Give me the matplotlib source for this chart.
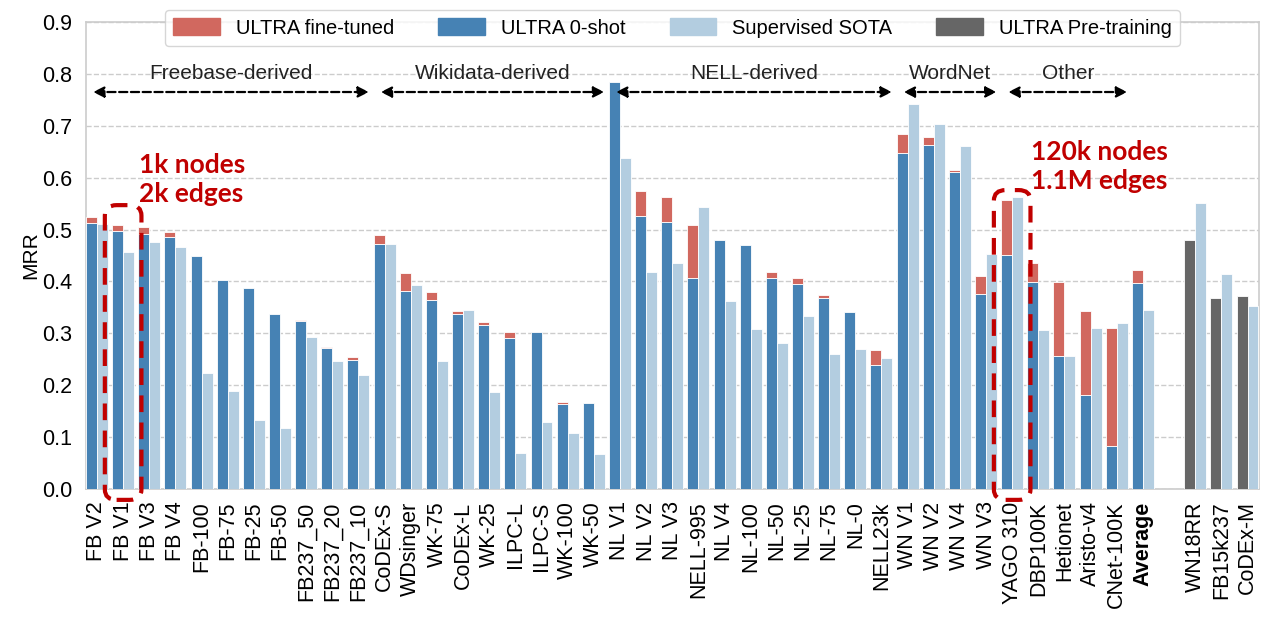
import matplotlib.pyplot as plt
from matplotlib.patches import Patch, FancyBboxPatch

# datasets shown in the main block (0-shot, fine-tuned, supervised SOTA)
datasets = ['FB V2', 'FB V1', 'FB V3', 'FB V4', 'FB-100', 'FB-75', 'FB-25', 'FB-50',
            'FB237_50', 'FB237_20', 'FB237_10', 'CoDEx-S', 'WDsinger', 'WK-75',
            'CoDEx-L', 'WK-25', 'ILPC-L', 'ILPC-S', 'WK-100', 'WK-50', 'NL V1',
            'NL V2', 'NL V3', 'NELL-995', 'NL V4', 'NL-100', 'NL-50', 'NL-25',
            'NL-75', 'NL-0', 'NELL23k', 'WN V1', 'WN V2', 'WN V4', 'WN V3',
            'YAGO 310', 'DBP100K', 'Hetionet', 'Aristo-v4', 'CNet-100K', 'Average']
zero_shot = [0.512, 0.498, 0.491, 0.486, 0.449, 0.403, 0.388, 0.338,
             0.324, 0.272, 0.248, 0.472, 0.382, 0.365,
             0.338, 0.316, 0.290, 0.302, 0.164, 0.166, 0.785,
             0.526, 0.515, 0.406, 0.479, 0.471, 0.407, 0.395,
             0.368, 0.342, 0.239, 0.648, 0.663, 0.611, 0.376,
             0.451, 0.398, 0.257, 0.182, 0.082, 0.396]
fine_tuned = [0.524, 0.509, 0.504, 0.496, None, None, None, None,
              0.325, 0.274, 0.254, 0.490, 0.417, 0.380,
              0.343, 0.321, 0.303, None, 0.168, None, None,
              0.574, 0.563, 0.509, None, None, 0.418, 0.407,
              0.374, None, 0.268, 0.685, 0.679, 0.614, 0.411,
              0.557, 0.436, 0.399, 0.343, 0.310, 0.422]
sota = [0.510, 0.457, 0.476, 0.466, 0.223, 0.189, 0.133, 0.117,
        0.293, 0.247, 0.219, 0.473, 0.393, 0.247,
        0.345, 0.186, 0.070, 0.130, 0.107, 0.068, 0.637,
        0.419, 0.436, 0.543, 0.363, 0.309, 0.281, 0.334,
        0.261, 0.269, 0.253, 0.741, 0.704, 0.661, 0.452,
        0.563, 0.306, 0.257, 0.311, 0.320, 0.344]

# pre-training graphs
pretrain_names = ['WN18RR', 'FB15k237', 'CoDEx-M']
pretrain_vals = [0.480, 0.368, 0.372]
pretrain_sota = [0.551, 0.415, 0.352]

group_names = ['Freebase-derived', 'Wikidata-derived', 'NELL-derived', 'WordNet', 'Other']
group_sizes = [11, 9, 11, 4, 5]

c_ft = '#D1685F'
c_zs = '#4682B4'
c_sota = '#B3CDE0'
c_pre = '#666666'
c_note = '#C00000'

plt.rcParams['font.family'] = ['Liberation Sans', 'DejaVu Sans']

fig = plt.figure(figsize=(12.8, 6.17), dpi=100)
ax = fig.add_axes([0.0672, 0.2075, 0.9164, 0.7569])

w = 0.42
n = len(datasets)
for i in range(n):
    ax.bar(i - w / 2, zero_shot[i], w, color=c_zs, edgecolor='white', linewidth=0.6, zorder=3)
    if fine_tuned[i] is not None and fine_tuned[i] > zero_shot[i]:
        ax.bar(i - w / 2, fine_tuned[i] - zero_shot[i], w, bottom=zero_shot[i],
               color=c_ft, edgecolor='white', linewidth=0.6, zorder=3)
    ax.bar(i + w / 2, sota[i], w, color=c_sota, edgecolor='white', linewidth=0.6, zorder=3)

pre_x = [n + 1 + k for k in range(len(pretrain_names))]
for k, x in enumerate(pre_x):
    ax.bar(x - w / 2, pretrain_vals[k], w, color=c_pre, edgecolor='white', linewidth=0.6, zorder=3)
    ax.bar(x + w / 2, pretrain_sota[k], w, color=c_sota, edgecolor='white', linewidth=0.6, zorder=3)

ticks = list(range(n)) + pre_x
labels = datasets + pretrain_names
ax.set_xticks(ticks)
ax.set_xticklabels(labels, rotation=90, fontsize=15.5)
for t in ax.get_xticklabels():
    if t.get_text() == 'Average':
        t.set_fontweight('bold')

ax.set_xlim(-0.42, 44.44)
ax.set_ylim(0, 0.9)
ax.set_yticks([0.1 * k for k in range(10)])
ax.set_yticklabels(['%.1f' % (0.1 * k) for k in range(10)], fontsize=15.5)
ax.set_ylabel('MRR', fontsize=15, labelpad=1)
ax.tick_params(axis='x', length=0, pad=9)
ax.tick_params(axis='y', length=0, pad=10)
ax.yaxis.grid(True, linestyle='--', color='#cccccc', linewidth=1.0, zorder=0)
ax.set_axisbelow(True)
for s in ax.spines.values():
    s.set_color('#cccccc')
    s.set_linewidth(1.2)

# group arrows
start = 0
for name, size in zip(group_names, group_sizes):
    x0 = start - 0.15
    x1 = start + size - 1 + 0.4
    ax.annotate('', xy=(x1, 0.765), xytext=(x0, 0.765),
                arrowprops=dict(arrowstyle='<|-|>', linestyle='--', lw=1.6,
                                color='black', mutation_scale=16,
                                shrinkA=0, shrinkB=0))
    ax.text((x0 + x1) / 2, 0.8, name, ha='center', va='center', fontsize=15, color='#222222')
    start += size

# highlighted graphs
for idx, top in [(datasets.index('FB V1'), 0.547), (datasets.index('YAGO 310'), 0.576)]:
    box = FancyBboxPatch((idx - 0.7, -0.021), 1.4, top + 0.021,
                         boxstyle='round,pad=0,rounding_size=0.45',
                         mutation_aspect=0.045, fill=False, edgecolor=c_note,
                         linestyle=(0, (4, 2.5)), linewidth=3, clip_on=False, zorder=5)
    ax.add_patch(box)

ax.text(1.6, 0.648, '1k nodes\n2k edges', color=c_note, fontsize=19, fontweight='bold',
        family='Lato', va='top', ha='left', linespacing=1.25)
ax.text(35.72, 0.673, '120k nodes\n1.1M edges', color=c_note, fontsize=19, fontweight='bold',
        family='Lato', va='top', ha='left', linespacing=1.25)

handles = [Patch(color=c_ft, label='ULTRA fine-tuned'),
           Patch(color=c_zs, label='ULTRA 0-shot'),
           Patch(color=c_sota, label='Supervised SOTA'),
           Patch(color=c_pre, label='ULTRA Pre-training')]
leg = ax.legend(handles=handles, loc='center', bbox_to_anchor=(0.5, 0.987), ncol=4,
                fontsize=14.5, frameon=True, handlelength=2.3, handleheight=0.9,
                columnspacing=2.2, borderpad=0.4, fancybox=True)
leg.get_frame().set_edgecolor('#cccccc')
leg.set_zorder(10)

fig.savefig('out.png', dpi=100)
